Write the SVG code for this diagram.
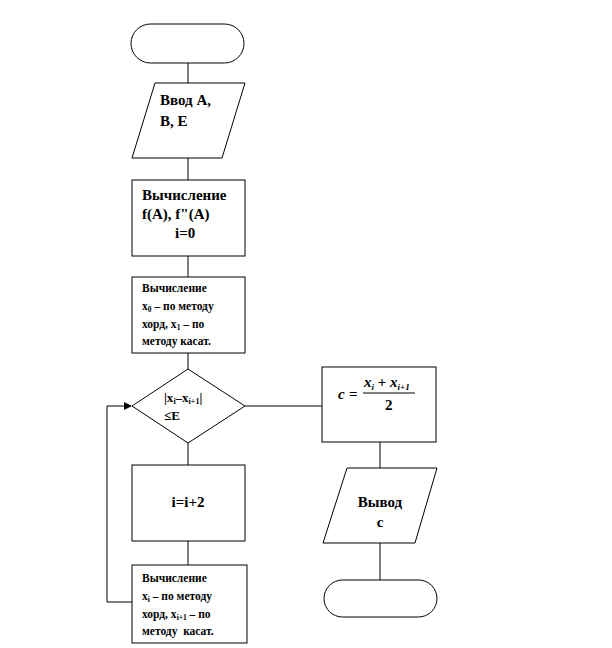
<svg xmlns="http://www.w3.org/2000/svg" width="612" height="648" viewBox="0 0 612 648">
<style>
.s{fill:#fff;stroke:#000;stroke-width:1}
.c{fill:none;stroke:#000;stroke-width:1}
text{font-family:'Liberation Serif','Times New Roman','DejaVu Serif',serif;font-weight:bold;fill:#000}
.b{font-size:15px}
.m{font-size:11.5px}
.d{font-size:13px}
.i{font-style:italic}
</style>
<defs>
<marker id="ah" markerWidth="8" markerHeight="8" refX="7" refY="4" orient="auto" markerUnits="userSpaceOnUse">
<path d="M0,0 L8,4 L0,8 z" fill="#000"/>
</marker>
</defs>
<rect width="612" height="648" fill="#fff"/>
<g id="connectors">
<line class="c" x1="188" y1="63" x2="188" y2="83"/>
<line class="c" x1="188" y1="158" x2="188" y2="180"/>
<line class="c" x1="188" y1="256" x2="188" y2="277"/>
<line class="c" x1="188" y1="353" x2="188" y2="369"/>
<line class="c" x1="188" y1="443" x2="188" y2="465"/>
<line class="c" x1="188" y1="541" x2="188" y2="565"/>
<polyline class="c" points="132,602 107,602 107,406 131,406" marker-end="url(#ah)"/>
<line class="c" x1="245" y1="406" x2="322" y2="406"/>
<line class="c" x1="380" y1="442" x2="380" y2="468"/>
<line class="c" x1="380" y1="543" x2="380" y2="580"/>
</g>
<g id="start">
<rect class="s" x="131" y="24" width="113" height="39" rx="19.5" ry="19.5"/>
</g>
<g id="input">
<polygon class="s" points="155,83 245,83 222,158 132,158"/>
<text class="b" x="160" y="105">Ввод А,</text>
<text class="b" x="160" y="126">В, Е</text>
</g>
<g id="calc1">
<rect class="s" x="132" y="180" width="113" height="76"/>
<text class="b" x="142" y="200">Вычисление</text>
<text class="b" x="142" y="219">f(A), f"(A)</text>
<text class="b" x="175" y="238">i=0</text>
</g>
<g id="calc2">
<rect class="s" x="132" y="277" width="113" height="76"/>
<text class="m" x="142" y="292">Вычисление</text>
<text class="m" x="142" y="310">x<tspan font-size="7.5" dy="2">0</tspan><tspan dy="-2"> – по методу</tspan></text>
<text class="m" x="142" y="328">хорд, x<tspan font-size="7.5" dy="2">1</tspan><tspan dy="-2"> – по</tspan></text>
<text class="m" x="142" y="345">методу касат.</text>
</g>
<g id="decision">
<polygon class="s" points="188,369 245,406 188,443 132,406"/>
<text class="d" x="164" y="402">|x<tspan font-size="8" dy="2">i</tspan><tspan dy="-2">–x</tspan><tspan font-size="8" dy="2">i+1</tspan><tspan dy="-2">|</tspan></text>
<text class="d" x="164" y="420">≤E</text>
</g>
<g id="formula">
<rect class="s" x="322" y="367" width="114" height="75"/>
<text class="b i" x="338" y="399">c</text>
<text class="b" x="349" y="399">=</text>
<text class="b i" x="364" y="387">x<tspan font-size="9" dy="3">i</tspan><tspan dy="-3" font-style="normal"> + </tspan>x<tspan font-size="9" dy="3">i+1</tspan></text>
<line x1="363" y1="393" x2="415" y2="393" stroke="#000" stroke-width="1"/>
<text class="b" x="385" y="410">2</text>
</g>
<g id="inc">
<rect class="s" x="132" y="465" width="113" height="76"/>
<text class="b" x="188" y="507" text-anchor="middle">i=i+2</text>
</g>
<g id="calc3">
<rect class="s" x="132" y="565" width="115" height="78"/>
<text class="m" x="142" y="582">Вычисление</text>
<text class="m" x="142" y="600">x<tspan font-size="7.5" dy="2">i</tspan><tspan dy="-2"> – по методу</tspan></text>
<text class="m" x="142" y="618">хорд, x<tspan font-size="7.5" dy="2">i+1</tspan><tspan dy="-2"> – по</tspan></text>
<text class="m" x="142" y="635" xml:space="preserve">методу  касат.</text>
</g>
<g id="output">
<polygon class="s" points="347,468 437,468 415,543 323,543"/>
<text class="b" x="380" y="507" text-anchor="middle">Вывод</text>
<text class="b" x="380" y="527" text-anchor="middle">с</text>
</g>
<g id="end">
<rect class="s" x="324" y="580" width="113" height="37" rx="18.5" ry="18.5"/>
</g>
</svg>
